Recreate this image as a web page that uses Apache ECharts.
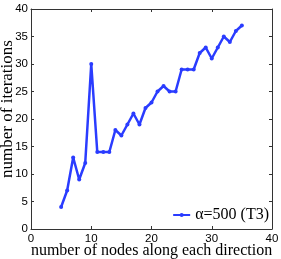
<!DOCTYPE html>
<html><head><meta charset="utf-8">
<script src="https://cdn.jsdelivr.net/npm/echarts@6/dist/echarts.min.js"></script>
<style>html,body{margin:0;padding:0;background:#fff}#c{width:281px;height:259px}</style>
</head><body><div id="c"></div>
<script>
var nodes = [5,6,7,8,9,10,11,12,13,14,15,16,17,18,19,20,21,22,23,24,25,26,27,28,29,30,31,32,33,34,35];
var iterations = [4,7,13,9,12,30,14,14,14,18,17,19,21,19,22,23,25,26,25,25,29,29,29,32,33,31,33,35,34,36,37];
var xTicks = [0,10,20,30,40];
var yTicks = [0,5,10,15,20,25,30,35,40];
var seriesName = 'α=500 (T3)';
var xTitle = 'number of nodes along each direction';
var yTitle = 'number of iterations';

var serif = '"Liberation Serif", "DejaVu Serif", serif';
var sans = '"Liberation Sans", Arial, sans-serif';
var axisLine = {show: true, onZero: false, lineStyle: {color: '#333', width: 1}};
var tick = {show: true, inside: true, length: 3, lineStyle: {color: '#333'}};
var chart = echarts.init(document.getElementById('c'), null, {renderer: 'canvas'});
chart.setOption({
  animation: false,
  backgroundColor: '#fff',
  grid: {left: 31, top: 9, right: 9, bottom: 30, containLabel: false, outerBoundsMode: 'none'},
  legend: {
    data: [seriesName],
    right: 12, top: 207, padding: 0,
    itemWidth: 17, itemHeight: 5, itemGap: 0,
    textStyle: {fontFamily: serif, fontSize: 16, color: '#000'}
  },
  xAxis: [{
    type: 'value', min: xTicks[0], max: xTicks[xTicks.length-1], interval: 10,
    axisLine: axisLine, axisTick: tick, splitLine: {show: false},
    axisLabel: {fontFamily: sans, fontSize: 11.5, color: '#000', margin: 4},
    name: xTitle, nameLocation: 'middle', nameGap: 14, nameMoveOverlap: false,
    nameTextStyle: {fontFamily: serif, fontSize: 16, color: '#000'}
  }, {
    type: 'value', position: 'top', min: xTicks[0], max: xTicks[xTicks.length-1], interval: 10,
    axisLine: axisLine, axisTick: tick, axisLabel: {show: false}, splitLine: {show: false}
  }],
  yAxis: [{
    type: 'value', min: yTicks[0], max: yTicks[yTicks.length-1], interval: 5,
    axisLine: axisLine, axisTick: tick, splitLine: {show: false},
    axisLabel: {fontFamily: sans, fontSize: 11.5, color: '#000', margin: 3},
    name: yTitle, nameLocation: 'middle', nameGap: 15, nameMoveOverlap: false,
    nameTextStyle: {fontFamily: serif, fontSize: 17, color: '#000', padding: [0, 0, 0, 20]}
  }, {
    type: 'value', position: 'right', min: yTicks[0], max: yTicks[yTicks.length-1], interval: 5,
    axisLine: axisLine, axisTick: tick, axisLabel: {show: false}, splitLine: {show: false}
  }],
  series: [{
    name: seriesName, type: 'line',
    data: nodes.map(function(n, i){ return [n, iterations[i]]; }),
    symbol: 'circle', symbolSize: 4, showSymbol: true,
    lineStyle: {color: '#2a3cff', width: 2.5},
    itemStyle: {color: '#2a3cff'}
  }]
});
</script></body></html>
